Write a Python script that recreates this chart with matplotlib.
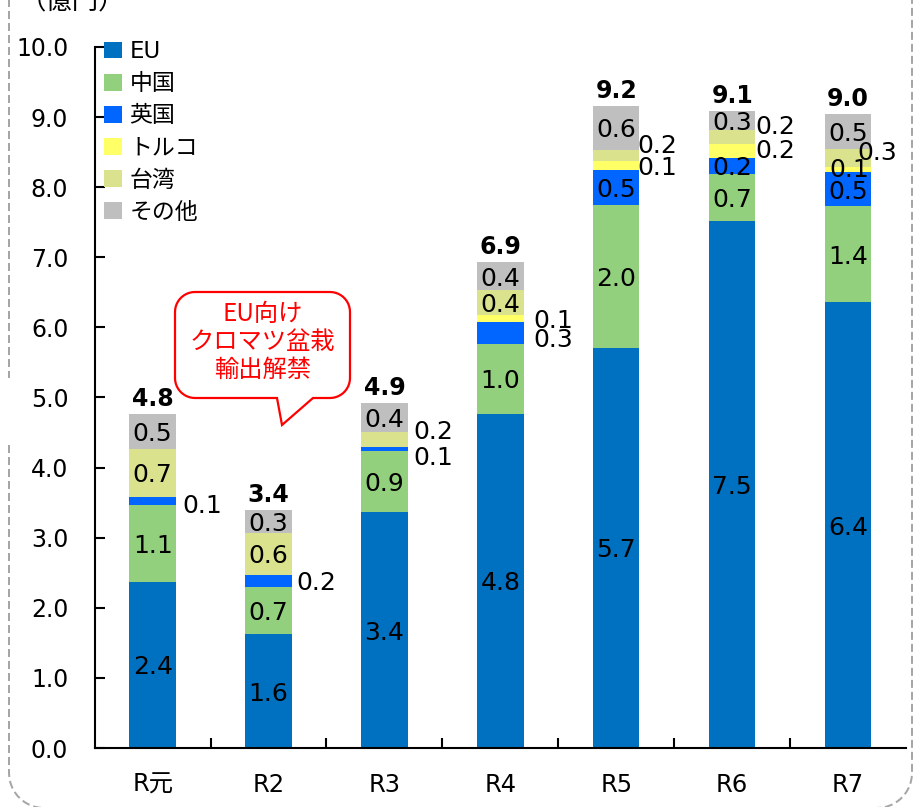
import numpy as np
import matplotlib
matplotlib.use('Agg')
import matplotlib.pyplot as plt
from matplotlib.patches import Polygon
from matplotlib.lines import Line2D

plt.rcParams['font.family'] = ['DejaVu Sans', 'Noto Sans CJK JP']

# ---------------- data ----------------
categories = ['R元', 'R2', 'R3', 'R4', 'R5', 'R6', 'R7']
series_names = ['EU', '中国', '英国', 'トルコ', '台湾', 'その他']
eu     = [2.37, 1.62, 3.36, 4.77, 5.71, 7.52, 6.36]
china  = [1.09, 0.68, 0.87, 1.00, 2.03, 0.67, 1.37]
uk     = [0.12, 0.17, 0.07, 0.31, 0.51, 0.23, 0.48]
turkey = [0.00, 0.00, 0.00, 0.09, 0.12, 0.20, 0.08]
taiwan = [0.69, 0.60, 0.21, 0.36, 0.16, 0.19, 0.26]
other  = [0.50, 0.33, 0.41, 0.40, 0.63, 0.27, 0.49]
y_ticks = [0, 1, 2, 3, 4, 5, 6, 7, 8, 9, 10]
callout_text = 'EU向け\nクロマツ盆栽\n輸出解禁'
unit_text = '（億円）'

series = [eu, china, uk, turkey, taiwan, other]
colors = ['#0070C0', '#93D07D', '#0066FF', '#FFFF66', '#DAE28E', '#BFBFBF']

# label placement: labels outside of the bar (category, series) -> (dx px, dy px)
outside = {
    (0, 2): (7, -2),
    (1, 2): (5, 0),
    (2, 4): (6, 9.5), (2, 2): (6, -6.5),
    (3, 3): (10, 0), (3, 2): (10, -4.5),
    (4, 4): (-2, 12), (4, 3): (-2, 0),
    (5, 4): (0, 12.5), (5, 3): (0, 2),
    (6, 4): (-14, 7), (6, 3): (-42, 2),
}

W, H = 916, 807
fig = plt.figure(figsize=(W / 100, H / 100), dpi=100)
ax = fig.add_axes([94.7 / W, 1 - 748 / H, (906 - 94.7) / W, (748 - 47) / H])

x = np.arange(len(categories))
bw = 0.4
bottoms = np.zeros(len(categories))
px2pt = 0.72
lab_fs = 18
for s, (vals, name, col) in enumerate(zip(series, series_names, colors)):
    vals = np.array(vals)
    ax.bar(x, vals, bw, bottom=bottoms, color=col, label=name, edgecolor='none', zorder=2)
    for i, v in enumerate(vals):
        if v <= 0:
            continue
        yc = bottoms[i] + v / 2
        txt = f'{v:.1f}'
        if (i, s) in outside:
            dx, dy = outside[(i, s)]
            ax.annotate(txt, xy=(x[i] + bw / 2, yc), xytext=(dx * px2pt, dy * px2pt),
                        textcoords='offset points', ha='left', va='center_baseline',
                        fontsize=lab_fs, color='black', zorder=5)
        else:
            ax.text(x[i], yc, txt, ha='center', va='center_baseline', fontsize=lab_fs,
                    color='black', zorder=5)
    bottoms = bottoms + vals

for i, tot in enumerate(bottoms):
    ax.annotate(f'{tot:.1f}', xy=(x[i], tot), xytext=(0, 3 * px2pt), textcoords='offset points',
                ha='center', va='bottom', fontsize=17, fontweight='bold', color='black')

ax.set_xlim(-0.5, 6.5)
ax.set_ylim(0, 10)
for sp in ['top', 'right']:
    ax.spines[sp].set_visible(False)
for sp in ['left', 'bottom']:
    ax.spines[sp].set_linewidth(1.5)
ax.set_yticks(y_ticks)
ax.set_yticklabels([f'{v:.1f}' for v in y_ticks])
ax.tick_params(axis='y', direction='in', length=7, width=1.5, pad=19, labelsize=17)
ax.set_xticks(x)
ax.set_xticklabels(categories)
ax.set_xticks(np.arange(0.5, 6, 1), minor=True)
ax.tick_params(axis='x', which='major', length=0, pad=18, labelsize=17.5)
ax.tick_params(axis='x', which='minor', direction='in', length=7, width=1.5)

leg = ax.legend(loc='upper left', bbox_to_anchor=(0.012, 1.01), frameon=False, fontsize=16.5,
                handlelength=0.75, handleheight=0.75, handletextpad=0.35, labelspacing=0.4,
                borderpad=0, borderaxespad=0)

# ---------------- callout ----------------
def to_fig(pts):
    return [(px / W, 1 - py / H) for px, py in pts]

def arc(cx, cy, r, t0, t1, n=12):
    ts = np.radians(np.linspace(t0, t1, n))
    return [(cx + r * np.cos(t), cy + r * np.sin(t)) for t in ts]

x0, y0, x1, y1, r = 175, 292, 350, 398, 20
pts = []
pts += arc(x1 - r, y0 + r, r, -90, 0)
pts += arc(x1 - r, y1 - r, r, 0, 90)
pts += [(313, y1), (282, 425), (277, y1)]
pts += arc(x0 + r, y1 - r, r, 90, 180)
pts += arc(x0 + r, y0 + r, r, 180, 270)
poly = Polygon(to_fig(pts), closed=True, facecolor='white', edgecolor='#FF0000', lw=1.6,
               transform=fig.transFigure, zorder=10)
fig.add_artist(poly)
fig.text((x0 + x1) / 2 / W, 1 - 342 / H, callout_text, ha='center', va='center', color='#FF0000',
         fontsize=17.5, family=['Noto Sans CJK JP'], linespacing=1.1, zorder=11)

# unit label (partly cut at top)
fig.text(20 / W, 1 - 2 / H, unit_text, ha='left', va='center', fontsize=19,
         family=['Noto Sans CJK JP'], color='black')

# ---------------- dashed frame ----------------
rb = 35
seg1 = [(9, -10), (9, 378)]
seg2 = [(9, 445)] + arc(9 + rb, 808 - rb, rb, 180, 90) + arc(912 - rb, 808 - rb, rb, 90, 0) + [(912, -10)]
for seg in (seg1, seg2):
    f = to_fig(seg)
    fig.add_artist(Line2D([p[0] for p in f], [p[1] for p in f], transform=fig.transFigure,
                          color='#A6A6A6', lw=1.44, dashes=[4, 2]))

fig.savefig('out.png', dpi=100)
